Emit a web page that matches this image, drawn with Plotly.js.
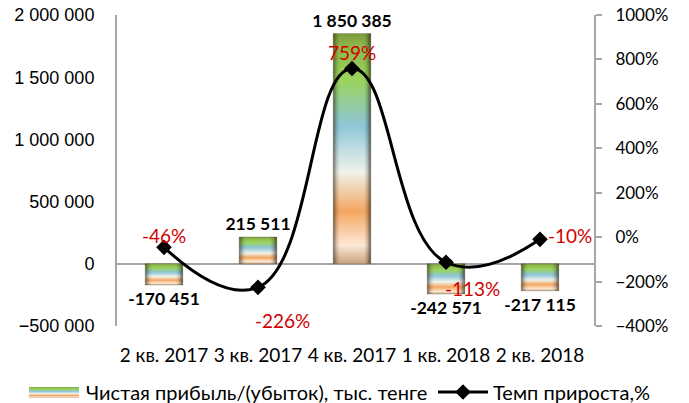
<!DOCTYPE html>
<html>
<head>
<meta charset="utf-8">
<script src="https://cdn.plot.ly/plotly-3.0.1.min.js"></script>
<style>
html,body{margin:0;padding:0;background:#fff;}
#chart{width:689px;height:403px;}
</style>
</head>
<body>
<div id="chart"></div>
<script>
// ---- data ----
var categories = ["2 кв. 2017", "3 кв. 2017", "4 кв. 2017", "1 кв. 2018", "2 кв. 2018"];
var profit = [-170451, 215511, 1850385, -242571, -217115];
var growth = [-46, -226, 759, -113, -10];
var profitName = "Чистая прибыль/(убыток), тыс. тенге";
var growthName = "Темп прироста,%";

// ---- styles for growth labels (offsets in px) ----
var growthLabelDx = [0, 24, 0, 26, 30];
var growthLabelDy = [12, -33, 16, -26, 4];

var fontMain = "Liberation Sans, Arial, sans-serif";
var fontCal = "Lato, Liberation Sans, sans-serif";

var barTrace = {
  type: "bar",
  x: categories,
  y: profit,
  name: profitName,
  legend: "legend",
  marker: {color: "#9ad35b", line: {color: "rgba(90,80,50,0.6)", width: 0.5}},
  texttemplate: "%{y:,d}",
  textposition: "outside",
  constraintext: "none",
  textangle: 0,
  textfont: {family: fontCal, size: 17.5, color: "#000", weight: "bold"},
  cliponaxis: false,
  hoverinfo: "skip"
};

var lineTrace = {
  type: "scatter",
  mode: "lines+markers",
  x: categories,
  y: growth,
  yaxis: "y2",
  name: growthName,
  legend: "legend2",
  line: {color: "#000", width: 3, shape: "spline", smoothing: 1.3},
  marker: {symbol: "diamond", size: 12, color: "#000"},
  cliponaxis: false,
  hoverinfo: "skip"
};

var annotations = growth.map(function (v, i) {
  return {
    x: categories[i], y: v, xref: "x", yref: "y2",
    text: v + "%", showarrow: false,
    xshift: growthLabelDx[i], yshift: growthLabelDy[i],
    font: {family: fontCal, size: 19, color: "#D00000"}
  };
});

var legendFont = {family: fontCal, size: 20, color: "#000"};

var layout = {
  width: 689, height: 403,
  margin: {l: 117, r: 95, t: 15, b: 77, autoexpand: false},
  paper_bgcolor: "#fff", plot_bgcolor: "#fff",
  separators: ", ",
  showlegend: true,
  bargap: 0.6,
  font: {family: fontCal, size: 16, color: "#000"},
  xaxis: {
    type: "category",
    showgrid: false, showline: false, zeroline: false,
    ticks: "", ticklabelstandoff: 16,
    tickfont: {family: fontCal, size: 19, color: "#000"}
  },
  yaxis: {
    range: [-500000, 2000000], dtick: 500000, tick0: 0,
    tickformat: ",d",
    showgrid: false,
    showline: true, linecolor: "#A6A6A6", linewidth: 2,
    zeroline: true, zerolinecolor: "#A6A6A6", zerolinewidth: 2,
    ticks: "", ticklabelstandoff: 17,
    tickfont: {family: fontMain, size: 18, color: "#000"}
  },
  yaxis2: {
    overlaying: "y", side: "right",
    range: [-400, 1000], dtick: 200, tick0: 0,
    ticksuffix: "%",
    showgrid: false, zeroline: false,
    showline: true, linecolor: "#A6A6A6", linewidth: 2,
    ticks: "outside", ticklen: 6, tickwidth: 2, tickcolor: "#A6A6A6",
    ticklabelstandoff: 10,
    tickfont: {family: fontCal, size: 17, color: "#000"}
  },
  legend: {
    orientation: "h",
    xref: "container", yref: "container",
    x: 26 / 689, xanchor: "left",
    y: 11 / 403, yanchor: "middle",
    font: legendFont,
    itemwidth: 50
  },
  legend2: {
    orientation: "h",
    xref: "container", yref: "container",
    x: 433 / 689, xanchor: "left",
    y: 11 / 403, yanchor: "middle",
    font: legendFont,
    itemwidth: 50
  },
  annotations: annotations
};

Plotly.newPlot("chart", [barTrace, lineTrace], layout, {staticPlot: true}).then(function (gd) {
  var svgNS = "http://www.w3.org/2000/svg";
  var svg = gd.querySelector("svg.main-svg");
  var defs = document.createElementNS(svgNS, "defs");
  function grad(id, horiz, stops) {
    var g = document.createElementNS(svgNS, "linearGradient");
    g.setAttribute("id", id);
    g.setAttribute("x1", "0"); g.setAttribute("y1", "0");
    g.setAttribute("x2", horiz ? "1" : "0"); g.setAttribute("y2", horiz ? "0" : "1");
    stops.forEach(function (s) {
      var st = document.createElementNS(svgNS, "stop");
      st.setAttribute("offset", s[0]);
      st.setAttribute("stop-color", s[1]);
      st.setAttribute("stop-opacity", s[2] === undefined ? 1 : s[2]);
      g.appendChild(st);
    });
    defs.appendChild(g);
  }
  grad("barGrad", false, [
    [0, "#7d9c3c"], [0.05, "#8db54b"], [0.2, "#9ad35b"], [0.4, "#8ec6d8"],
    [0.6, "#eef3ea"], [0.77, "#f4a662"], [0.92, "#fde8d4"], [1, "#c8a27e"]
  ]);
  grad("bevelH", true, [
    [0, "#3c3220", 0.6], [0.1, "#000", 0.12], [0.18, "#000", 0],
    [0.82, "#000", 0], [0.9, "#000", 0.15], [1, "#281e14", 0.65]
  ]);
  svg.insertBefore(defs, svg.firstChild);

  gd.querySelectorAll(".barlayer .point path").forEach(function (p) {
    p.style.fill = "url(#barGrad)";
    var c = p.cloneNode(false);
    c.style.fill = "url(#bevelH)";
    c.style.stroke = "none";
    p.parentNode.appendChild(c);
  });

  function originX(el) {
    var m = el.parentNode.getScreenCTM();
    return m ? m.e : 0;
  }
  function textLeft(item) {
    var t = item.querySelector("text.legendtext");
    return t ? t.getBoundingClientRect().left : 0;
  }
  var items = gd.querySelectorAll(".legend .traces");
  items.forEach(function (item) {
    var tx = textLeft(item);
    var line = item.querySelector(".legendlines path");
    if (line) {
      line.removeAttribute("transform");
      var ox = originX(line);
      line.setAttribute("d", "M" + (tx - 60 - ox) + ",0h55");
      var mk = item.querySelector(".legendpoints path.scatterpts");
      if (mk) {
        var ox2 = originX(mk);
        mk.setAttribute("transform", "translate(" + (tx - 32 - ox2) + ",0)");
      }
    } else {
      var barSym = item.querySelector(".legendpoints path");
      if (barSym) {
        barSym.removeAttribute("transform");
        var ox3 = originX(barSym);
        barSym.setAttribute("d", "M" + (tx - 57 - ox3) + ",-5h50v11h-50z");
        barSym.style.fill = "url(#barGrad)";
        barSym.style.stroke = "none";
      }
    }
  });
});
</script>
</body>
</html>
